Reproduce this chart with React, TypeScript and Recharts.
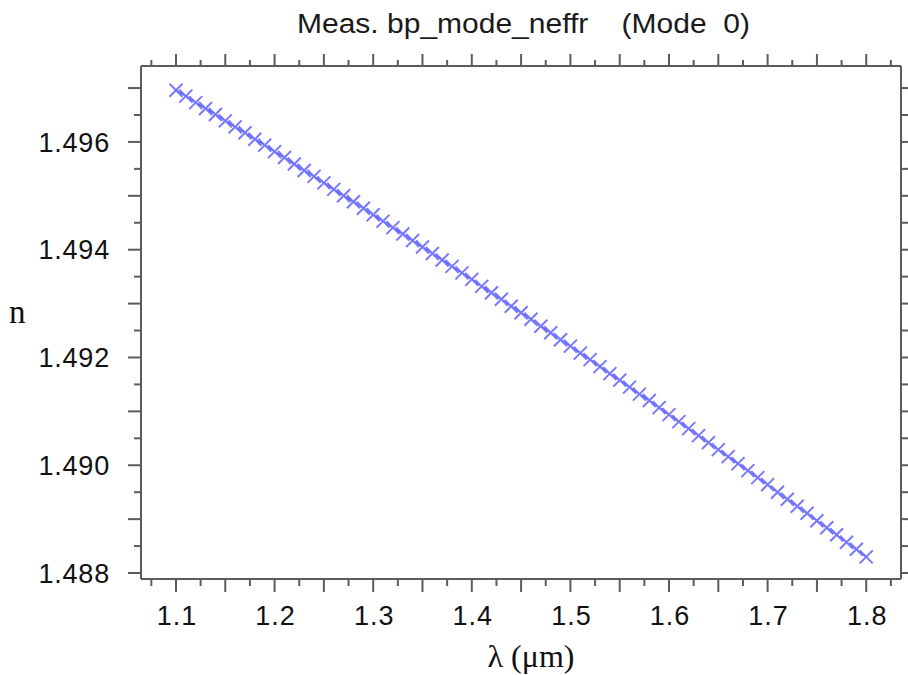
import React from "react";
import { LineChart, Line, XAxis, YAxis } from "recharts";

const lambdaValues = [
  1.1, 1.11, 1.12, 1.13, 1.14, 1.15, 1.16, 1.17, 1.18, 1.19,
  1.2, 1.21, 1.22, 1.23, 1.24, 1.25, 1.26, 1.27, 1.28, 1.29,
  1.3, 1.31, 1.32, 1.33, 1.34, 1.35, 1.36, 1.37, 1.38, 1.39,
  1.4, 1.41, 1.42, 1.43, 1.44, 1.45, 1.46, 1.47, 1.48, 1.49,
  1.5, 1.51, 1.52, 1.53, 1.54, 1.55, 1.56, 1.57, 1.58, 1.59,
  1.6, 1.61, 1.62, 1.63, 1.64, 1.65, 1.66, 1.67, 1.68, 1.69,
  1.7, 1.71, 1.72, 1.73, 1.74, 1.75, 1.76, 1.77, 1.78, 1.79,
  1.8,
];

const neffValues = [
  1.49696, 1.49685, 1.49673, 1.49662, 1.49651, 1.49639, 1.49628, 1.49617, 1.49605, 1.49594,
  1.49582, 1.49571, 1.49559, 1.49547, 1.49536, 1.49524, 1.49512, 1.495, 1.49489, 1.49477,
  1.49465, 1.49453, 1.49441, 1.49429, 1.49417, 1.49405, 1.49393, 1.49381, 1.49369, 1.49357,
  1.49345, 1.49332, 1.4932, 1.49308, 1.49295, 1.49283, 1.49271, 1.49258, 1.49246, 1.49233,
  1.49221, 1.49208, 1.49196, 1.49183, 1.4917, 1.49158, 1.49145, 1.49132, 1.4912, 1.49107,
  1.49094, 1.49081, 1.49068, 1.49055, 1.49042, 1.49029, 1.49016, 1.49003, 1.4899, 1.48977,
  1.48964, 1.4895, 1.48937, 1.48924, 1.48911, 1.48897, 1.48884, 1.48871, 1.48857, 1.48844,
  1.4883,
];

const xTickValues = [
  1.075, 1.1, 1.125, 1.15, 1.175, 1.2, 1.225, 1.25, 1.275, 1.3, 1.325, 1.35, 1.375, 1.4,
  1.425, 1.45, 1.475, 1.5, 1.525, 1.55, 1.575, 1.6, 1.625, 1.65, 1.675, 1.7, 1.725, 1.75,
  1.775, 1.8, 1.825,
];
const xLongTicks = [1.1, 1.15, 1.2, 1.25, 1.3, 1.35, 1.4, 1.45, 1.5, 1.55, 1.6, 1.65, 1.7, 1.75, 1.8];
const xLabelTicks = [1.1, 1.2, 1.3, 1.4, 1.5, 1.6, 1.7, 1.8];

const yTickValues = [
  1.488, 1.4885, 1.489, 1.4895, 1.49, 1.4905, 1.491, 1.4915, 1.492, 1.4925,
  1.493, 1.4935, 1.494, 1.4945, 1.495, 1.4955, 1.496, 1.4965, 1.497,
];
const yLongTicks = [1.488, 1.489, 1.49, 1.491, 1.492, 1.493, 1.494, 1.495, 1.496, 1.497];
const yLabelTicks = [1.488, 1.49, 1.492, 1.494, 1.496];

const titleText = "Meas. bp_mode_neffr    (Mode  0)";
const xLabelText = "λ (μm)";
const yLabelText = "n";

const data = lambdaValues.map((l, i) => ({ lambda: l, neff: neffValues[i] }));

const near = (list: number[], v: number) => list.some((m) => Math.abs(m - v) < 1e-7);

const AXIS = "#5c5c5c";
const TICK_FONT = "'Liberation Sans', Arial, sans-serif";
const SERIF = "'Liberation Serif', 'Times New Roman', serif";

const BottomTick = (props: any) => {
  const { x, y, payload } = props;
  const v = payload.value;
  const len = near(xLongTicks, v) ? 13 : 7;
  return (
    <g>
      <line x1={x} x2={x} y1={y} y2={y + len} stroke={AXIS} strokeWidth={2} />
      {near(xLabelTicks, v) && (
        <text x={x + 1} y={y + 46} textAnchor="middle" fontSize={27} letterSpacing={1} fontFamily={TICK_FONT} fill="#111">
          {v.toFixed(1)}
        </text>
      )}
    </g>
  );
};

const TopTick = (props: any) => {
  const { x, y, payload } = props;
  const len = near(xLongTicks, payload.value) ? 12 : 6;
  return <line x1={x} x2={x} y1={y} y2={y - len} stroke={AXIS} strokeWidth={2} />;
};

const LeftTick = (props: any) => {
  const { x, y, payload } = props;
  const v = payload.value;
  const len = near(yLongTicks, v) ? 13 : 7;
  return (
    <g>
      <line x1={x} x2={x - len} y1={y} y2={y} stroke={AXIS} strokeWidth={2} />
      {near(yLabelTicks, v) && (
        <text x={x - 31} y={y} dy="0.36em" textAnchor="end" fontSize={27} letterSpacing={0.8} fontFamily={TICK_FONT} fill="#111">
          {v.toFixed(3)}
        </text>
      )}
    </g>
  );
};

const RightTick = (props: any) => {
  const { x, y, payload } = props;
  const len = near(yLongTicks, payload.value) ? 13 : 7;
  return <line x1={x} x2={x + len} y1={y} y2={y} stroke={AXIS} strokeWidth={2} />;
};

const CrossDot = (props: any) => {
  const { cx, cy, index } = props;
  if (cx == null || cy == null) return <g key={index} />;
  const r = 6.5;
  return (
    <g key={index}>
      <line x1={cx - r} y1={cy - r} x2={cx + r} y2={cy + r} stroke="#7878ff" strokeWidth={2} />
      <line x1={cx - r} y1={cy + r} x2={cx + r} y2={cy - r} stroke="#7878ff" strokeWidth={2} />
    </g>
  );
};

const X_DOMAIN: [number, number] = [1.06453, 1.83527];
const Y_DOMAIN: [number, number] = [1.487889, 1.497409];

export default function App() {
  return (
    <div style={{ position: "absolute", left: 0, top: 0, width: 908, height: 675, background: "#fff" }}>
      <LineChart width={908} height={675} data={data} margin={{ top: 0, right: 0, bottom: 0, left: 0 }}>
        <XAxis
          xAxisId="bottom"
          dataKey="lambda"
          type="number"
          domain={X_DOMAIN}
          ticks={xTickValues}
          orientation="bottom"
          height={96}
          tickSize={0}
          tickMargin={0}
          tickLine={false}
          axisLine={{ stroke: AXIS, strokeWidth: 2 }}
          tick={<BottomTick />}
          interval={0}
          allowDataOverflow
        />
        <XAxis
          xAxisId="top"
          dataKey="lambda"
          type="number"
          domain={X_DOMAIN}
          ticks={xTickValues}
          orientation="top"
          height={66}
          tickSize={0}
          tickMargin={0}
          tickLine={false}
          axisLine={{ stroke: AXIS, strokeWidth: 2 }}
          tick={<TopTick />}
          interval={0}
          allowDataOverflow
        />
        <YAxis
          yAxisId="left"
          type="number"
          domain={Y_DOMAIN}
          ticks={yTickValues}
          orientation="left"
          width={141}
          tickSize={0}
          tickMargin={0}
          tickLine={false}
          axisLine={{ stroke: AXIS, strokeWidth: 2 }}
          tick={<LeftTick />}
          interval={0}
          allowDataOverflow
        />
        <YAxis
          yAxisId="right"
          type="number"
          domain={Y_DOMAIN}
          ticks={yTickValues}
          orientation="right"
          width={7}
          tickSize={0}
          tickMargin={0}
          tickLine={false}
          axisLine={{ stroke: AXIS, strokeWidth: 2 }}
          tick={<RightTick />}
          interval={0}
          allowDataOverflow
        />
        <Line
          xAxisId="bottom"
          yAxisId="left"
          dataKey="neff"
          type="linear"
          stroke="#4646e6"
          strokeWidth={1.5}
          dot={<CrossDot />}
          activeDot={false}
          isAnimationActive={false}
        />
      </LineChart>
      <svg
        width={908}
        height={675}
        style={{ position: "absolute", left: 0, top: 0, pointerEvents: "none" }}
      >
        <text
          x={297}
          y={33}
          fontSize={27}
          fontFamily={TICK_FONT}
          fill="#1a1a1a"
          textLength={453}
          lengthAdjust="spacingAndGlyphs"
          style={{ whiteSpace: "pre" }}
        >
          {titleText}
        </text>
        <text x={531} y={667} textAnchor="middle" fontSize={32} fontFamily={SERIF} fill="#111">
          {xLabelText}
        </text>
        <text x={9} y={323} fontSize={33} fontFamily={SERIF} fill="#111">
          {yLabelText}
        </text>
      </svg>
    </div>
  );
}
